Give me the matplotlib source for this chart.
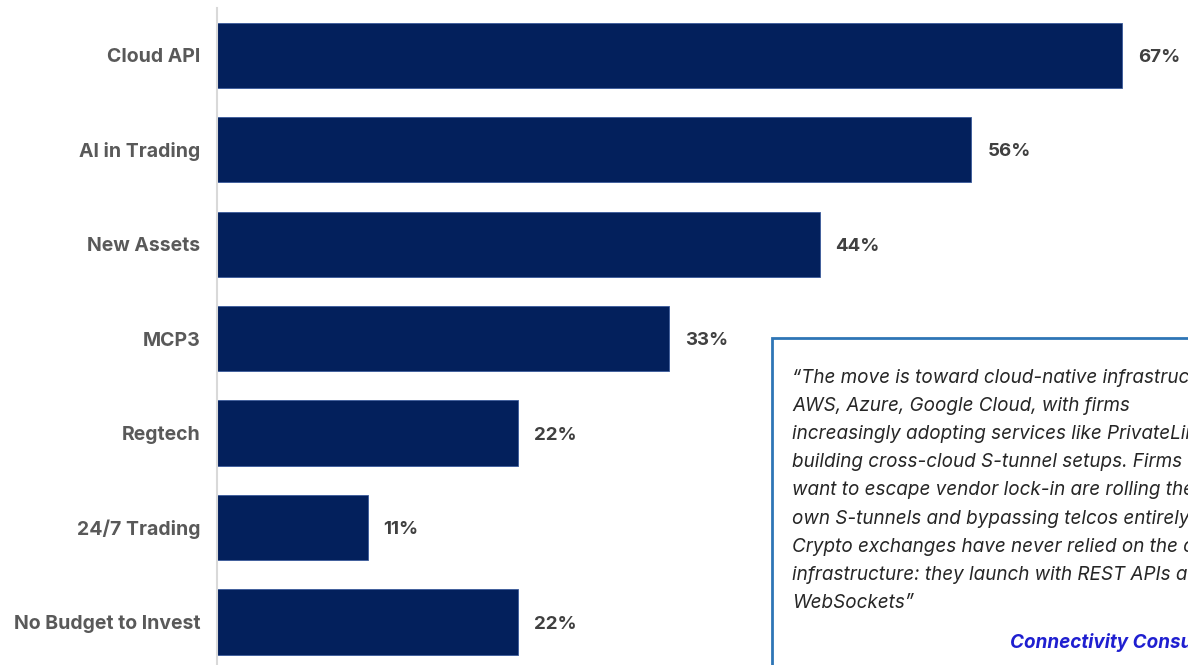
import matplotlib
matplotlib.use("Agg")
import matplotlib.pyplot as plt
from matplotlib.patches import Rectangle

categories = ["Cloud API", "AI in Trading", "New Assets", "MCP3", "Regtech",
              "24/7 Trading", "No Budget to Invest"]
values = [66.7, 55.6, 44.4, 33.3, 22.2, 11.1, 22.2]
labels = ["67%", "56%", "44%", "33%", "22%", "11%", "22%"]

quote_lines = [
    "\u201cThe move is toward cloud-native infrastructure:",
    "AWS, Azure, Google Cloud, with firms",
    "increasingly adopting services like PrivateLink and",
    "building cross-cloud S-tunnel setups. Firms that",
    "want to escape vendor lock-in are rolling their",
    "own S-tunnels and bypassing telcos entirely.",
    "Crypto exchanges have never relied on the core",
    "infrastructure: they launch with REST APIs and",
    "WebSockets\u201d",
]
attribution = "Connectivity Consultant"

FONT = "Inter"
W, H = 1188, 665
fig = plt.figure(figsize=(W / 100, H / 100), dpi=100)
fig.patch.set_facecolor("white")

ax_left = 217 / W
ax_top = 1 - 8 / H
ax = fig.add_axes([ax_left, 0, 1 - ax_left, ax_top])
bar_color = "#03205C"
ypos = list(range(len(categories)))
ax.barh(ypos, values, height=0.69, color=bar_color, edgecolor="#3A5A9A", linewidth=0.6)
px_per_unit = 13.57
ax.set_xlim(0, (W - 217) / px_per_unit)
ax.set_ylim(6 + 43 / 94.5, -0.5)

for y, v, lab in zip(ypos, values, labels):
    ax.annotate(lab, (v, y), xytext=(16, -2), textcoords="offset pixels",
                ha="left", va="center", fontsize=13.5, fontweight="bold",
                color="#404040", family=FONT)

ax.set_yticks(ypos)
ax.set_yticklabels(categories, fontsize=14, fontweight="bold", color="#595959", family=FONT)
ax.tick_params(axis="y", length=0, pad=12)
ax.set_xticks([])
for s in ["top", "right", "bottom"]:
    ax.spines[s].set_visible(False)
ax.spines["left"].set_color("#D9D9D9")
ax.spines["left"].set_linewidth(1.5)

# quote box
bx, by = 772, 338
fig.patches.append(Rectangle((bx / W, -0.05), 1.0, 1 - by / H + 0.05,
                             transform=fig.transFigure, facecolor="white",
                             edgecolor="#2E75B6", linewidth=2, zorder=5))
y0 = 378
dy = 28.1
for i, line in enumerate(quote_lines):
    fig.text(792 / W, 1 - (y0 + i * dy) / H, line, fontsize=13.6, style="italic",
             color="#262626", family=FONT, va="center", ha="left", zorder=6)
fig.text(1010 / W, 1 - 643 / H, attribution, fontsize=13.6, style="italic",
         fontweight="bold", color="#1F1FD0", family=FONT, va="center", ha="left", zorder=6)

fig.savefig("out.png", dpi=100, facecolor="white")
